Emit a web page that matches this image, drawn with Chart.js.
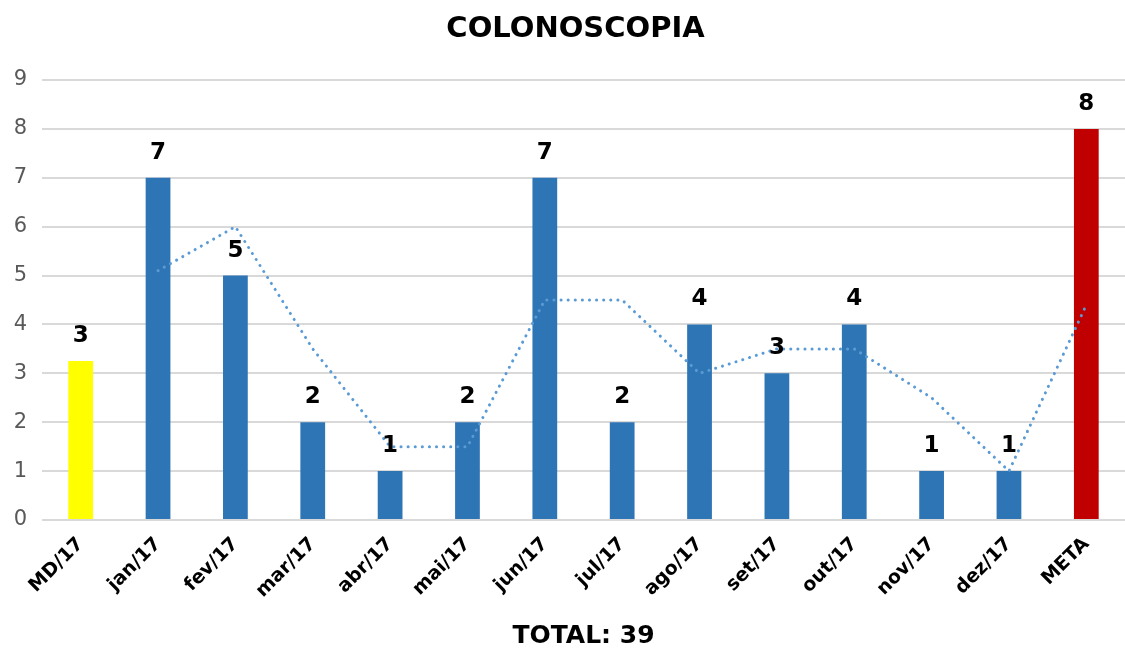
<!DOCTYPE html>
<html>
<head>
<meta charset="utf-8">
<script src="https://cdn.jsdelivr.net/npm/chart.js@4.4.1/dist/chart.umd.min.js"></script>
<style>
  html, body { margin: 0; padding: 0; background: #fff; }
  #wrap { width: 1125px; height: 648px; }
</style>
</head>
<body>
<div id="wrap"><canvas id="colonoChart"></canvas></div>
<script>
const months = ['MD/17', 'jan/17', 'fev/17', 'mar/17', 'abr/17', 'mai/17', 'jun/17',
  'jul/17', 'ago/17', 'set/17', 'out/17', 'nov/17', 'dez/17', 'META'];
const exams = [3.25, 7, 5, 2, 1, 2, 7, 2, 4, 3, 4, 1, 1, 8];
const movingAvg = [null, 5.1, 6, 3.5, 1.5, 1.5, 4.5, 4.5, 3, 3.5, 3.5, 2.5, 1, 4.4];
const barColors = ['#FFFF00', '#2E75B6', '#2E75B6', '#2E75B6', '#2E75B6', '#2E75B6', '#2E75B6',
  '#2E75B6', '#2E75B6', '#2E75B6', '#2E75B6', '#2E75B6', '#2E75B6', '#C00000'];
const chartTitle = 'COLONOSCOPIA';
const totalLabel = 'TOTAL: 39';

const FONT = "'DejaVu Sans', Verdana, sans-serif";

// numbers over the bars + heading
const barValues = {
  id: 'barValues',
  afterDatasetsDraw(chart) {
    const { ctx, chartArea } = chart;
    const meta = chart.getDatasetMeta(0);
    ctx.save();
    ctx.font = 'bold 23px ' + FONT;
    ctx.fillStyle = '#000';
    ctx.textAlign = 'center';
    ctx.textBaseline = 'middle';
    meta.data.forEach((bar, i) => {
      ctx.fillText(Math.round(exams[i]), bar.x, bar.y - 25);
    });
    ctx.font = 'bold 29px ' + FONT;
    ctx.fillText(chartTitle, (chartArea.left + chartArea.right) / 2 - 8, 29);
    ctx.restore();
  }
};

const ctx = document.getElementById('colonoChart').getContext('2d');
new Chart(ctx, {
  type: 'bar',
  data: {
    labels: months,
    datasets: [
      {
        type: 'bar',
        data: exams,
        backgroundColor: barColors,
        borderWidth: 0,
        barPercentage: 1,
        categoryPercentage: 0.32,
        order: 1,
      },
      {
        type: 'line',
        data: movingAvg,
        borderColor: '#5B9BD5',
        borderWidth: 3,
        borderDash: [0.1, 7],
        borderCapStyle: 'round',
        pointRadius: 0,
        tension: 0,
        fill: false,
        order: 0,
      }
    ],
  },
  options: {
    responsive: true,
    maintainAspectRatio: false,
    animation: false,
    layout: { padding: { left: 2, right: 0, top: 80, bottom: 0 } },
    plugins: {
      legend: { display: false },
      tooltip: { enabled: false },
      title: { display: false },
    },
    scales: {
      x: {
        grid: { display: false },
        border: { display: false },
        ticks: {
          color: '#000',
          font: { family: FONT, size: 19, weight: 'bold' },
          maxRotation: 45,
          minRotation: 45,
          autoSkip: false,
          padding: 5,
        },
        title: {
          display: true,
          text: totalLabel,
          color: '#000',
          font: { family: FONT, size: 25, weight: 'bold' },
          padding: { top: 0, bottom: -3 },
        },
        afterFit(scale) { scale.height = 128; },
      },
      y: {
        min: 0,
        max: 9,
        beginAtZero: true,
        border: { display: false },
        grid: { color: '#D9D9D9', lineWidth: 2, drawTicks: false },
        ticks: {
          stepSize: 1,
          color: '#595959',
          font: { family: FONT, size: 21 },
          padding: 15,
        },
        afterFit(scale) { scale.width = 40; },
      },
    },
  },
  plugins: [barValues],
});
</script>
</body>
</html>
